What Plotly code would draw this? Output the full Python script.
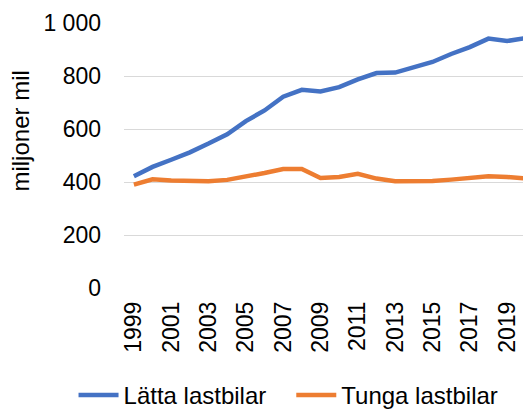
import plotly.graph_objects as go

years = list(range(1999, 2021))
latta = [422, 457, 484, 512, 545, 580, 630, 670, 722, 748, 742, 758, 787, 811, 813, 833, 853, 883, 909, 941, 932, 943]
tunga = [390, 410, 406, 403, 403, 408, 420, 434, 449, 449, 415, 419, 431, 413, 403, 403, 404, 409, 416, 422, 419, 413]
tick_years = list(range(1999, 2020, 2))
y_ticks = [0, 200, 400, 600, 800, 1000]
y_labels = ["0", "200", "400", "600", "800", "1 000"]
y_title = "miljoner mil"
series_names = ["Lätta lastbilar", "Tunga lastbilar"]

FONT = "Liberation Sans, Arial, sans-serif"
PAD = "\u00a0\u00a0\u00a0"

fig = go.Figure()
fig.add_trace(go.Scatter(x=years, y=latta, mode="lines", name=series_names[0] + PAD,
                         line=dict(color="#4472C4", width=4.5, shape="linear")))
fig.add_trace(go.Scatter(x=years, y=tunga, mode="lines", name=series_names[1],
                         line=dict(color="#ED7D31", width=4.5)))

fig.update_layout(
    width=523, height=402,
    margin=dict(l=116, r=0, t=15, b=122, autoexpand=False),
    paper_bgcolor="white", plot_bgcolor="white",
    font=dict(family=FONT, size=23, color="#000000"),
    showlegend=True,
    legend=dict(orientation="h", xref="paper", yref="paper",
                x=-0.124, xanchor="left", y=-0.405, yanchor="middle",
                font=dict(size=24), itemwidth=40, traceorder="normal"),
    annotations=[dict(text=y_title, textangle=-90, xref="paper", yref="paper",
                      x=-0.2545, y=0.592, xanchor="center", yanchor="middle",
                      showarrow=False, font=dict(size=24, color="#000000"))],
)
fig.update_xaxes(range=[1998.47, 2020.28], tickmode="array", tickvals=tick_years,
                 ticktext=[str(y) for y in tick_years], tickangle=-90,
                 showgrid=False, zeroline=False, showline=False, automargin=False,
                 ticks="", ticklabelstandoff=8, tickfont=dict(size=23))
fig.update_yaxes(range=[0, 1000], tickmode="array", tickvals=y_ticks, ticktext=y_labels,
                 showgrid=True, gridcolor="#D9D9D9", gridwidth=1.3, zeroline=False,
                 showline=False, ticks="", ticklabelstandoff=22, tickfont=dict(size=23),
                 automargin=False)

fig.write_html("out.html")
